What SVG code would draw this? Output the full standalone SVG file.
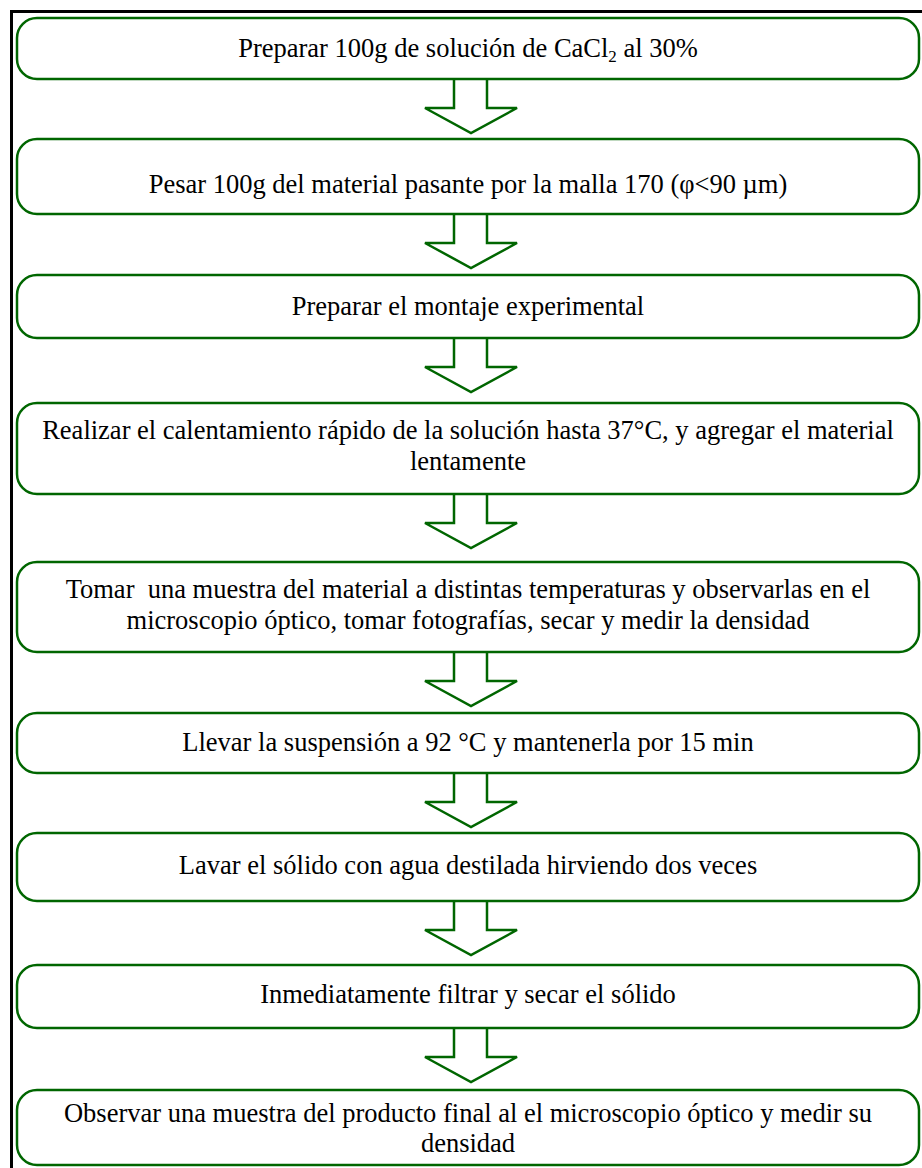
<svg xmlns="http://www.w3.org/2000/svg" width="922" height="1168" viewBox="0 0 922 1168">
<style>
.b{fill:#fff;stroke:#006600;stroke-width:2.5}
.a{fill:#fff;stroke:#006600;stroke-width:2.5;stroke-linejoin:miter}
text{font-family:"Liberation Serif","Times New Roman",serif;font-size:26.5px;fill:#000;text-anchor:middle}
</style>
<defs>
<path id="arr" d="M454,0 V29 H425 L471,54 L517,29 H487 V0"/>
</defs>
<rect x="0" y="0" width="922" height="1168" fill="#fff"/>
<rect x="11.5" y="11.5" width="930" height="1180" fill="none" stroke="#000" stroke-width="3"/>
<g id="connectors">
<use href="#arr" class="a" y="79"/>
<use href="#arr" class="a" y="214"/>
<use href="#arr" class="a" y="338"/>
<use href="#arr" class="a" y="494"/>
<use href="#arr" class="a" y="652"/>
<use href="#arr" class="a" y="773"/>
<use href="#arr" class="a" y="901"/>
<use href="#arr" class="a" y="1028"/>
</g>
<g id="n1"><rect class="b" x="17" y="18" width="902" height="61" rx="20"/><text x="468" y="57">Preparar 100g de solución de CaCl<tspan font-size="17" dy="5">2</tspan><tspan dy="-5"> al 30%</tspan></text></g>
<g id="n2"><rect class="b" x="17" y="139" width="902" height="75" rx="20"/><text x="468" y="193">Pesar 100g del material pasante por la malla 170 (φ&lt;90 µm)</text></g>
<g id="n3"><rect class="b" x="17" y="275" width="902" height="63" rx="20"/><text x="468" y="315">Preparar el montaje experimental</text></g>
<g id="n4"><rect class="b" x="17" y="403" width="902" height="91" rx="20"/><text x="468" y="439">Realizar el calentamiento rápido de la solución hasta 37°C, y agregar el material</text><text x="468" y="470">lentamente</text></g>
<g id="n5"><rect class="b" x="17" y="562" width="902" height="90" rx="20"/><text x="468" y="598" xml:space="preserve">Tomar  una muestra del material a distintas temperaturas y observarlas en el</text><text x="468" y="629">microscopio óptico, tomar fotografías, secar y medir la densidad</text></g>
<g id="n6"><rect class="b" x="17" y="713" width="902" height="60" rx="20"/><text x="468" y="751">Llevar la suspensión a 92 °C y mantenerla por 15 min</text></g>
<g id="n7"><rect class="b" x="17" y="833" width="902" height="68" rx="20"/><text x="468" y="874">Lavar el sólido con agua destilada hirviendo dos veces</text></g>
<g id="n8"><rect class="b" x="17" y="965" width="902" height="63" rx="20"/><text x="468" y="1003">Inmediatamente filtrar y secar el sólido</text></g>
<g id="n9"><rect class="b" x="17" y="1090" width="902" height="75" rx="20"/><text x="468" y="1122">Observar una muestra del producto final al el microscopio óptico y medir su</text><text x="468" y="1152">densidad</text></g>
</svg>
